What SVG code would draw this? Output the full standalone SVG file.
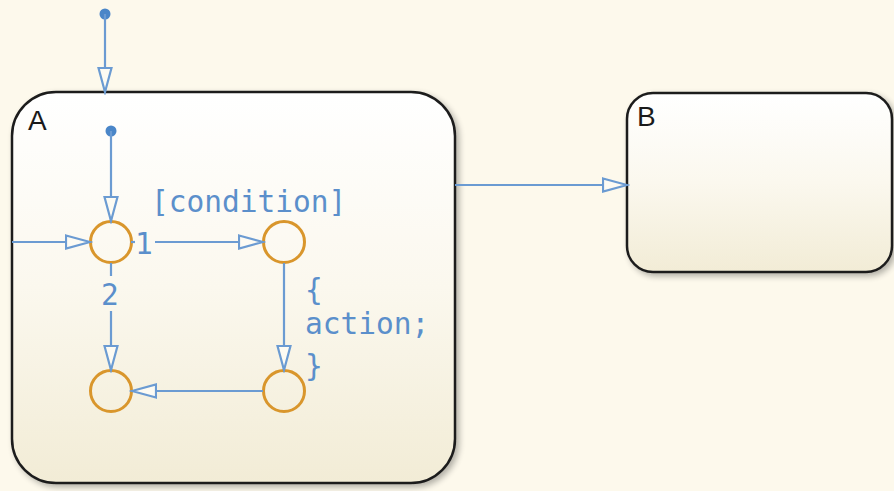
<svg xmlns="http://www.w3.org/2000/svg" width="894" height="491" viewBox="0 0 894 491">
<defs>
<style>
.st{stroke:#1e1e1e;stroke-width:2.5}
.lbl{font-family:"Liberation Sans","DejaVu Sans",sans-serif;font-size:28px;fill:#1a1a1a}
.tr{fill:none;stroke:#6b9bd2;stroke-width:2.2}
.jn{fill:none;stroke:#d9962c;stroke-width:3}
.code{font-family:"DejaVu Sans Mono","Liberation Mono",monospace;font-size:29.5px;fill:#5b8fcb}
.dot{fill:#4a86c8}
</style>
<linearGradient id="gA" x1="0" y1="0" x2="0" y2="1">
<stop offset="0" stop-color="#ffffff"/>
<stop offset="0.5" stop-color="#fbf8ee"/>
<stop offset="1" stop-color="#f2ecd6"/>
</linearGradient>
<filter id="sh" x="-5%" y="-5%" width="115%" height="115%">
<feGaussianBlur in="SourceAlpha" stdDeviation="3"/>
<feOffset dx="3" dy="3"/>
<feComponentTransfer><feFuncA type="linear" slope="0.3"/></feComponentTransfer>
<feMerge><feMergeNode/><feMergeNode in="SourceGraphic"/></feMerge>
</filter>
<marker id="ah" markerUnits="userSpaceOnUse" markerWidth="28" markerHeight="18" refX="25" refY="8" orient="auto" viewBox="0 0 28 18">
<path d="M1,1.5 L25,8 L1,14.5 Z" fill="#fdfbf3" stroke="#6b9bd2" stroke-width="2.2"/>
</marker>
</defs>
<rect x="0" y="0" width="894" height="491" fill="#fdf9ec"/>
<g id="A">
<rect class="st" x="12" y="92" width="443" height="391" rx="44" ry="44" fill="url(#gA)" filter="url(#sh)"/>
<text class="lbl" x="28" y="130">A</text>
</g>
<g id="B">
<rect class="st" x="627" y="93" width="265" height="179" rx="26" ry="26" fill="url(#gA)" filter="url(#sh)"/>
<text class="lbl" x="637" y="126">B</text>
</g>
<g id="j1"><circle class="jn" cx="111" cy="242" r="20.5"/></g>
<g id="j2"><circle class="jn" cx="284" cy="242" r="20.5"/></g>
<g id="j3"><circle class="jn" cx="111" cy="391" r="20.5"/></g>
<g id="j4"><circle class="jn" cx="284" cy="391" r="20.5"/></g>
<g id="connectors">
<circle class="dot" cx="105" cy="14" r="5.5"/>
<line class="tr" x1="105" y1="14" x2="105" y2="92" marker-end="url(#ah)"/>
<circle class="dot" cx="111" cy="131" r="5.5"/>
<line class="tr" x1="111" y1="131" x2="111" y2="221" marker-end="url(#ah)"/>
<line class="tr" x1="12" y1="242" x2="90" y2="242" marker-end="url(#ah)"/>
<line class="tr" x1="131" y1="242" x2="135" y2="242"/>
<line class="tr" x1="155" y1="242" x2="263" y2="242" marker-end="url(#ah)"/>
<line class="tr" x1="111" y1="263" x2="111" y2="276"/>
<line class="tr" x1="111" y1="311" x2="111" y2="370" marker-end="url(#ah)"/>
<line class="tr" x1="284" y1="263" x2="284" y2="370" marker-end="url(#ah)"/>
<line class="tr" x1="263" y1="391" x2="132" y2="391" marker-end="url(#ah)"/>
<line class="tr" x1="455" y1="185" x2="627" y2="185" marker-end="url(#ah)"/>
<text class="code" x="151" y="212">[condition]</text>
<text class="code" x="135" y="254">1</text>
<text class="code" x="101" y="305">2</text>
<text class="code" x="305" y="300">{</text>
<text class="code" x="305" y="334">action;</text>
<text class="code" x="305" y="376">}</text>
</g>
</svg>
